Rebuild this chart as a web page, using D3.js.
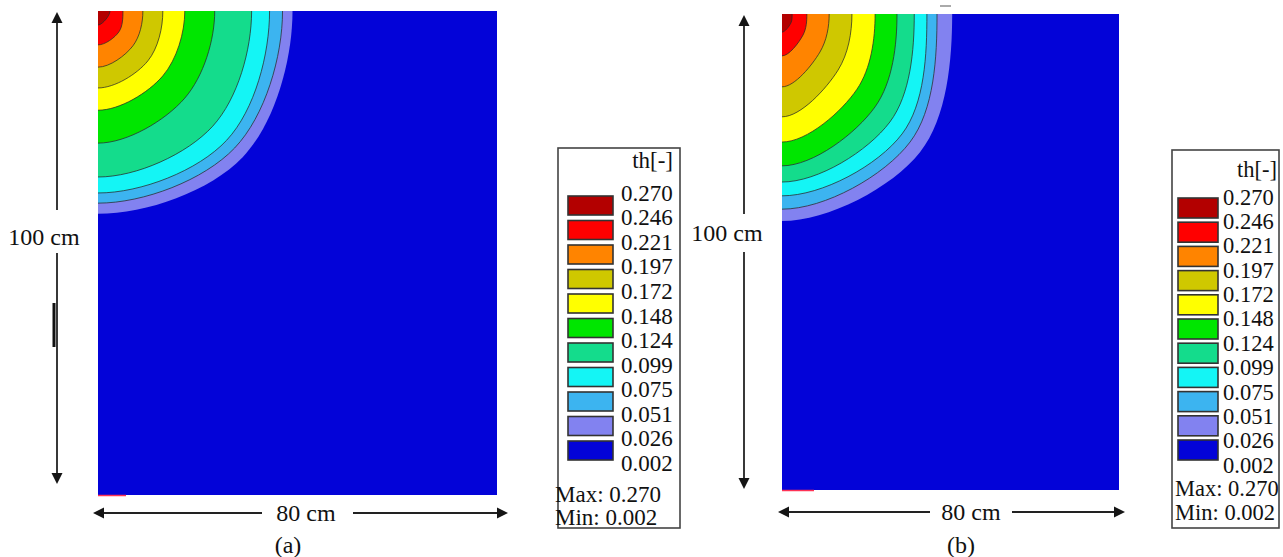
<!DOCTYPE html>
<html><head><meta charset="utf-8">
<script src="https://cdn.jsdelivr.net/npm/d3@7"></script>
<style>body{margin:0;background:#fff}</style>
</head><body>
<svg id="c" width="1283" height="557" font-family="'Liberation Serif','Times New Roman',Times,serif"></svg>
<script>
// ---- data ----
const levelLabels = ["0.270","0.246","0.221","0.197","0.172","0.148","0.124","0.099","0.075","0.051","0.026","0.002"];
const bandColors = ["#b30000","#ff0000","#ff8400","#cfc800","#ffff00","#00e600","#14dc8c","#14f5f5","#3cb4f0","#8282f0","#0303d8"];
const legendTitle = "th[-]";
const maxText = "Max: 0.270";
const minText = "Min: 0.002";
// contour boundaries (cm from the top-left corner), innermost first
const aTopX  = [2.4, 5.0, 9.0, 13.0, 17.4, 23.4, 30.8, 34.4, 37.0, 39.0];
const aLeftY = [2.9, 7.0, 11.6, 15.9, 20.5, 27.3, 34.3, 37.6, 39.7, 41.9];
const aDiagX = [1.6, 4.2, 7.0, 10.0, 13.0, 17.4, 23.0, 25.8, 27.4, 29.0];
const aDiagY = [1.7, 4.3, 7.2, 10.3, 13.4, 18.0, 23.8, 26.7, 28.3, 30.2];
const bTopX  = [2.4, 5.9, 11.2, 16.6, 22.1, 27.3, 31.4, 34.4, 36.8, 40.4];
const bLeftY = [3.8, 8.8, 15.3, 21.6, 26.9, 31.9, 35.3, 38.2, 41.0, 43.5];
const bDiagX = [2.1, 5.0, 9.0, 13.3, 17.8, 22.1, 25.6, 28.5, 30.4, 32.8];
const bDiagY = [1.9, 4.4, 8.0, 11.8, 15.8, 19.5, 22.7, 25.2, 26.9, 29.0];
const widthCm = 80, heightCm = 100;

const svg = d3.select("#c");

function arrowHead(g, x, y, dir){
  const L = 11, W = 5.5;
  let p;
  if(dir==="up") p=[[x,y],[x-W,y+L],[x+W,y+L]];
  if(dir==="down") p=[[x,y],[x-W,y-L],[x+W,y-L]];
  if(dir==="left") p=[[x,y],[x+L,y-W],[x+L,y+W]];
  if(dir==="right") p=[[x,y],[x-L,y-W],[x-L,y+W]];
  g.append("path").attr("d","M"+p.join("L")+"Z").attr("fill","#151515");
}

function panel(cfg){
  const x = d3.scaleLinear([0,widthCm],[cfg.x0,cfg.x1]);
  const y = d3.scaleLinear([0,heightCm],[cfg.y0,cfg.y1]);
  const g = svg.append("g");
  const clipId = "clip"+cfg.id;
  svg.append("clipPath").attr("id",clipId).append("rect")
    .attr("x",x(0)).attr("y",y(0)).attr("width",x(widthCm)-x(0)).attr("height",y(heightCm)-y(0));
  g.append("rect").attr("x",x(0)).attr("y",y(0)).attr("width",x(widthCm)-x(0)).attr("height",y(heightCm)-y(0))
    .attr("fill",bandColors[bandColors.length-1]);
  const cg = g.append("g").attr("clip-path",`url(#${clipId})`);
  const line = d3.line().x(d=>x(d[0])).y(d=>y(d[1])).curve(d3.curveCatmullRom.alpha(0.5));
  const n = cfg.top.length;
  const pts = i => [[cfg.dx[i],-cfg.dy[i]],[cfg.top[i],0],[cfg.dx[i],cfg.dy[i]],[0,cfg.left[i]],[-cfg.dx[i],cfg.dy[i]]];
  for(let i=n-1;i>=0;i--){
    cg.append("path").attr("d",line(pts(i))+`L${x(0)},${y(0)}Z`).attr("fill",bandColors[i]);
  }
  for(let i=n-2;i>=0;i--){
    cg.append("path").attr("d",line(pts(i))).attr("fill","none").attr("stroke","#2a2a2a").attr("stroke-opacity",0.75).attr("stroke-width",1);
  }
  g.append("line").attr("x1",x(0)).attr("x2",x(0)+cfg.redLen).attr("y1",y(heightCm)+0.5).attr("y2",y(heightCm)+0.5)
    .attr("stroke","#ff3355").attr("stroke-width",1.5);
  const a = svg.append("g");
  a.append("line").attr("x1",cfg.vx).attr("x2",cfg.vx).attr("y1",cfg.vTop+8).attr("y2",cfg.vGap0).attr("stroke","#222").attr("stroke-width",1.8);
  a.append("line").attr("x1",cfg.vx).attr("x2",cfg.vx).attr("y1",cfg.vGap1).attr("y2",cfg.vBot-8).attr("stroke","#222").attr("stroke-width",1.8);
  arrowHead(a,cfg.vx,cfg.vTop,"up");
  arrowHead(a,cfg.vx,cfg.vBot,"down");
  a.append("text").attr("x",cfg.vLabelX).attr("y",cfg.vLabelY).attr("text-anchor","middle").attr("font-size",24).attr("fill","#111").text("100 cm");
  a.append("line").attr("x1",cfg.hLeft+8).attr("x2",cfg.hGap0).attr("y1",cfg.hy).attr("y2",cfg.hy).attr("stroke","#222").attr("stroke-width",1.8);
  a.append("line").attr("x1",cfg.hGap1).attr("x2",cfg.hRight-8).attr("y1",cfg.hy).attr("y2",cfg.hy).attr("stroke","#222").attr("stroke-width",1.8);
  arrowHead(a,cfg.hLeft,cfg.hy,"left");
  arrowHead(a,cfg.hRight,cfg.hy,"right");
  a.append("text").attr("x",cfg.hLabelX).attr("y",cfg.hy+8).attr("text-anchor","middle").attr("font-size",24).attr("fill","#111").text("80 cm");
  a.append("text").attr("x",cfg.capX).attr("y",cfg.capY).attr("text-anchor","middle").attr("font-size",24).attr("fill","#111").text(cfg.caption);
  return a;
}

function legend(cfg){
  const g = svg.append("g").attr("fill","#111");
  g.append("rect").attr("x",cfg.bx).attr("y",cfg.by).attr("width",cfg.bw).attr("height",cfg.bh)
    .attr("fill","#fff").attr("stroke","#444").attr("stroke-width",1.6);
  g.append("text").attr("x",cfg.titleX).attr("y",cfg.titleY).attr("text-anchor","end").attr("font-size",cfg.fs).text(legendTitle);
  const ly = d3.scaleLinear([0,levelLabels.length-1],[cfg.lab0,cfg.lab1]);
  g.selectAll(".lab").data(levelLabels).join("text").attr("x",cfg.labX).attr("y",(d,i)=>ly(i)+cfg.fs*0.34)
    .attr("font-size",cfg.fs).text(d=>d);
  const sy = d3.scaleLinear([0,bandColors.length-1],[cfg.sw0,cfg.sw1]);
  g.selectAll(".sw").data(bandColors).join("rect").attr("x",cfg.swX).attr("y",(d,i)=>sy(i)).attr("width",cfg.swW).attr("height",cfg.swH)
    .attr("fill",d=>d).attr("stroke","#333").attr("stroke-width",1.6);
  g.append("text").attr("x",cfg.mmX).attr("y",cfg.maxY).attr("font-size",cfg.fs).text(maxText);
  g.append("text").attr("x",cfg.mmX).attr("y",cfg.minY).attr("font-size",cfg.fs).text(minText);
}

const pa = panel({id:"a",x0:98,x1:497,y0:11,y1:495,top:aTopX,left:aLeftY,dx:aDiagX,dy:aDiagY,redLen:28,
  vx:57,vTop:12,vBot:484,vGap0:210,vGap1:253,vLabelX:44,vLabelY:245,
  hy:513,hLeft:93,hRight:508,hGap0:262,hGap1:353,hLabelX:306,capX:288,capY:553,caption:"(a)"});
pa.append("line").attr("x1",54).attr("x2",54).attr("y1",303).attr("y2",347).attr("stroke","#111").attr("stroke-width",3);

const pb = panel({id:"b",x0:782,x1:1119,y0:14,y1:490,top:bTopX,left:bLeftY,dx:bDiagX,dy:bDiagY,redLen:32,
  vx:744,vTop:15,vBot:489,vGap0:214,vGap1:252,vLabelX:727,vLabelY:241,
  hy:512,hLeft:778,hRight:1125,hGap0:930,hGap1:1012,hLabelX:971,capX:961,capY:553,caption:"(b)"});
pb.append("line").attr("x1",940).attr("x2",951).attr("y1",6).attr("y2",6).attr("stroke","#aaa").attr("stroke-width",2);

legend({bx:558,by:148,bw:122,bh:380,fs:23,titleX:673,titleY:168,labX:621,lab0:193,lab1:463,
  swX:568,swW:45,swH:19,sw0:196,sw1:441,mmX:555,maxY:502,minY:525});
legend({bx:1172,by:150,bw:107,bh:378,fs:22.5,titleX:1277,titleY:177,labX:1223,lab0:197,lab1:465,
  swX:1178,swW:40,swH:20,sw0:198,sw1:440,mmX:1175,maxY:496,minY:520});
</script>
</body></html>
